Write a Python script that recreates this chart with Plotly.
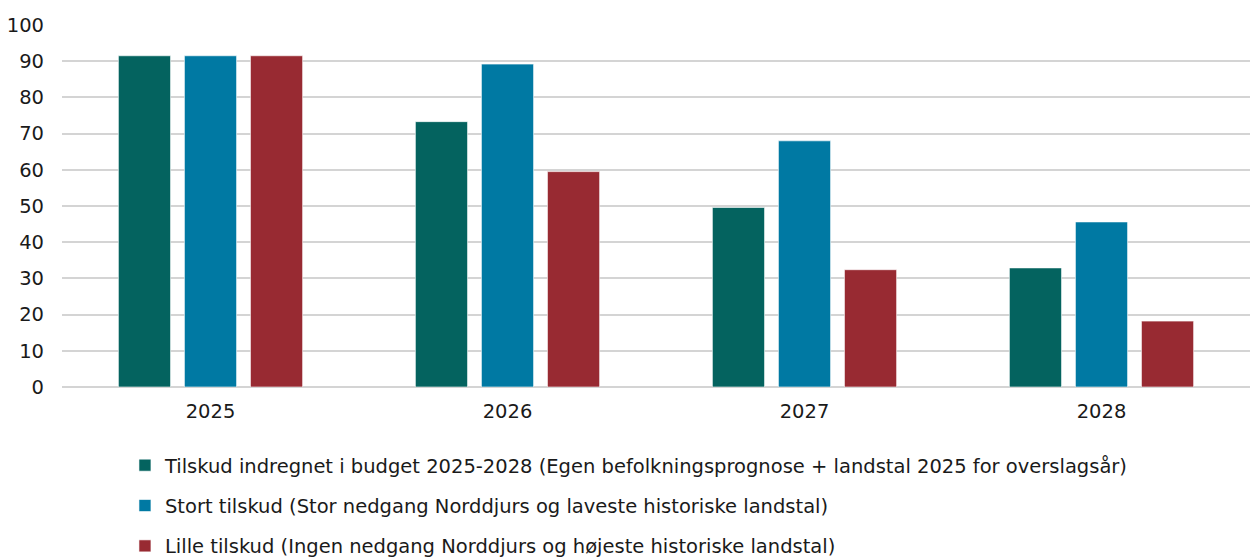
import plotly.graph_objects as go

years = ["2025", "2026", "2027", "2028"]
budget = [91.5, 73.3, 49.6, 32.9]
stort = [91.5, 89.2, 68.0, 45.6]
lille = [91.5, 59.5, 32.4, 18.2]

names = [
    "Tilskud indregnet i budget 2025-2028 (Egen befolkningsprognose + landstal 2025 for overslagsår)",
    "Stort tilskud (Stor nedgang Norddjurs og laveste historiske landstal)",
    "Lille tilskud (Ingen nedgang Norddjurs og højeste historiske landstal)",
]
colors = ["#04635F", "#0079A3", "#982A32"]
series = [budget, stort, lille]

FONT = "DejaVu Sans"

fig = go.Figure()
for i, (n, vals, c) in enumerate(zip(names, series, colors)):
    fig.add_trace(go.Bar(
        x=years, y=vals, name=n, legendgroup=f"g{i}",
        marker=dict(color=c, line=dict(color="rgba(255,255,255,0.6)", width=1)),
    ))

fig.update_layout(
    width=1250, height=558,
    margin=dict(l=62, r=0, t=25, b=171, autoexpand=False),
    paper_bgcolor="white", plot_bgcolor="white",
    barmode="group", bargap=0.333, bargroupgap=0.21,
    font=dict(family=FONT, size=19.5, color="#1a1a1a"),
    xaxis=dict(showgrid=False, showline=False, ticks="", ticklabelstandoff=10,
               tickfont=dict(size=19.5)),
    yaxis=dict(range=[0, 100], dtick=10, showgrid=True, gridcolor="#D4D4D4", gridwidth=1.8,
               zeroline=True, zerolinecolor="#D4D4D4", zerolinewidth=1.8,
               ticks="", ticklabelstandoff=17, tickfont=dict(size=19.5)),
    legend=dict(orientation="v", x=0.053, xanchor="left", y=-0.163, yanchor="top",
                font=dict(size=19.5), tracegroupgap=12, itemwidth=30),
    showlegend=True,
)

fig.write_html("out.html")
